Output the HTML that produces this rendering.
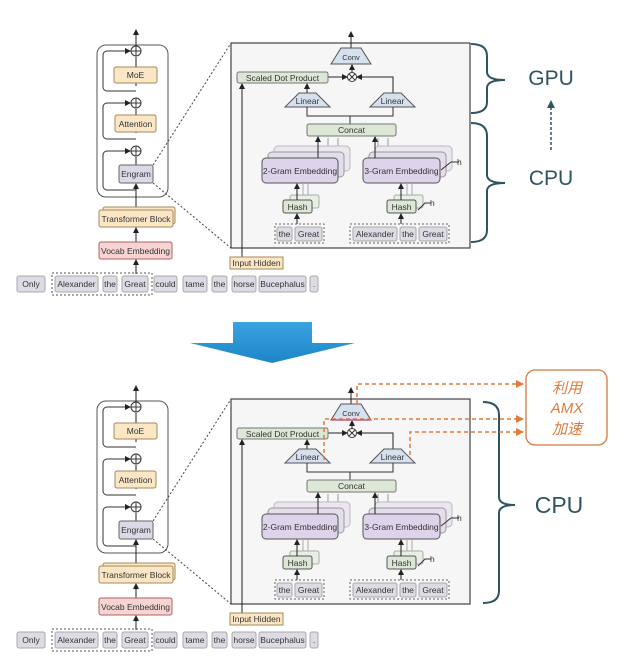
<!DOCTYPE html>
<html><head><meta charset="utf-8"><style>
html,body{margin:0;padding:0;background:#fff;}
svg{display:block;}
text{font-family:"Liberation Sans",sans-serif;font-size:8.5px;fill:#333;}
</style></head><body>
<svg width="630" height="667" viewBox="0 0 630 667" xmlns="http://www.w3.org/2000/svg">
<defs>
<marker id="a" markerWidth="6" markerHeight="6" refX="5" refY="3" orient="auto" markerUnits="userSpaceOnUse"><path d="M0,0 L6,3 L0,6 z" fill="#222"/></marker>
<marker id="o" markerWidth="8" markerHeight="8" refX="7" refY="4" orient="auto" markerUnits="userSpaceOnUse"><path d="M0,0 L8,4 L0,8 z" fill="#e07b39"/></marker>
<marker id="b" markerWidth="8" markerHeight="8" refX="7" refY="4" orient="auto" markerUnits="userSpaceOnUse"><path d="M0,0 L8,4 L0,8 z" fill="#2f5361"/></marker>
<linearGradient id="bl" x1="0" y1="0" x2="0" y2="1"><stop offset="0" stop-color="#3aa3e0"/><stop offset="1" stop-color="#1d86c8"/></linearGradient>
<g id="d">
 <!-- left column -->
 <rect x="97" y="45" width="71" height="152" rx="9" fill="none" stroke="#555" stroke-width="1"/>
 <line x1="136" y1="51" x2="136" y2="30" stroke="#222" marker-end="url(#a)"/>
 <circle cx="136" cy="51" r="5" fill="#fff" stroke="#333"/><path d="M131,51h10M136,46v10" stroke="#333"/>
 <circle cx="136" cy="103" r="5" fill="#fff" stroke="#333"/><path d="M131,103h10M136,98v10" stroke="#333"/>
 <circle cx="136" cy="151" r="5" fill="#fff" stroke="#333"/><path d="M131,151h10M136,146v10" stroke="#333"/>
 <path d="M136,86 V57 M136,133 V109 M136,165 V157 M136,210 V184" stroke="#222" fill="none" marker-end="url(#a)"/>
 <path d="M136,91 H107 a4,4 0 0 1 -4,-4 V55 a4,4 0 0 1 4,-4 H130" stroke="#333" fill="none" marker-end="url(#a)"/>
 <path d="M136,139 H107 a4,4 0 0 1 -4,-4 V107 a4,4 0 0 1 4,-4 H130" stroke="#333" fill="none" marker-end="url(#a)"/>
 <path d="M136,190 H107 a4,4 0 0 1 -4,-4 V155 a4,4 0 0 1 4,-4 H130" stroke="#333" fill="none" marker-end="url(#a)"/>
 <rect x="114" y="67" width="43" height="16" rx="2" fill="#fbe6c6" stroke="#a58a5a"/><text x="135.5" y="78" text-anchor="middle">MoE</text>
 <rect x="115" y="115" width="41" height="17" rx="2" fill="#fbe6c6" stroke="#a58a5a"/><text x="135.5" y="127" text-anchor="middle">Attention</text>
 <rect x="119" y="165" width="34" height="18" rx="2" fill="#dcd8e6" stroke="#666"/><text x="136" y="177" text-anchor="middle">Engram</text>
 <rect x="103" y="207" width="72" height="17" rx="2" fill="#fbe6c6" stroke="#a58a5a"/>
 <rect x="99" y="210" width="74" height="17" rx="2" fill="#fbe6c6" stroke="#a58a5a"/><text x="136" y="222" text-anchor="middle">Transformer Block</text>
 <line x1="136" y1="242" x2="136" y2="228" stroke="#222" marker-end="url(#a)"/>
 <rect x="99" y="242" width="73" height="17" rx="2" fill="#f6d4d4" stroke="#b06060"/><text x="135.5" y="254" text-anchor="middle">Vocab Embedding</text>
 <line x1="136" y1="274" x2="136" y2="260" stroke="#222" marker-end="url(#a)"/>
 <!-- tokens -->
 <g fill="#dedbe5" stroke="#aaa">
  <rect x="17" y="276" width="28" height="16" rx="2"/><rect x="55" y="276" width="43" height="16" rx="2"/><rect x="103" y="276" width="14" height="16" rx="2"/><rect x="122" y="276" width="26" height="16" rx="2"/><rect x="154" y="276" width="23" height="16" rx="2"/><rect x="183" y="276" width="24" height="16" rx="2"/><rect x="212" y="276" width="15" height="16" rx="2"/><rect x="232" y="276" width="24" height="16" rx="2"/><rect x="259" y="276" width="47" height="16" rx="2"/><rect x="310" y="276" width="8" height="16" rx="2"/>
 </g>
 <rect x="52" y="273" width="100" height="22" fill="none" stroke="#555" stroke-dasharray="2,2"/>
 <g text-anchor="middle"><text x="31" y="287">Only</text><text x="76.5" y="287">Alexander</text><text x="110" y="287">the</text><text x="135" y="287">Great</text><text x="165.5" y="287">could</text><text x="195" y="287">tame</text><text x="219.5" y="287">the</text><text x="244" y="287">horse</text><text x="282.5" y="287">Bucephalus</text><text x="314" y="287">.</text></g>
 <!-- zoom lines -->
 <line x1="153" y1="165" x2="231" y2="43" stroke="#444" stroke-dasharray="2,2"/>
 <line x1="153" y1="183" x2="231" y2="248" stroke="#444" stroke-dasharray="2,2"/>
 <!-- right panel -->
 <rect x="231" y="43" width="239" height="205" fill="#f6f6f6" stroke="#444" stroke-width="1.2"/>
 <line x1="351" y1="48" x2="351" y2="32" stroke="#222" marker-end="url(#a)"/>
 <path d="M341,48 H361 L371,64 H331 Z" fill="#d6e0ef" stroke="#555"/><text x="351" y="60" text-anchor="middle" style="font-size:7.5px">Conv</text>
 <line x1="352" y1="72" x2="352" y2="65" stroke="#222" marker-end="url(#a)"/>
 <circle cx="352" cy="77" r="4.5" fill="#fff" stroke="#333"/><path d="M349,74l6,6M355,74l-6,6" stroke="#333"/>
 <line x1="328" y1="77" x2="347" y2="77" stroke="#222" marker-end="url(#a)"/>
 <path d="M393,93 V77 H357" stroke="#222" fill="none" marker-end="url(#a)"/>
 <rect x="237" y="72" width="91" height="11" rx="2" fill="#dce7d6" stroke="#777"/><text x="282.5" y="81" text-anchor="middle">Scaled Dot Product</text>
 <path d="M242,257 V84" stroke="#222" marker-end="url(#a)"/>
 <line x1="307" y1="93" x2="307" y2="84" stroke="#222" marker-end="url(#a)"/>
 <path d="M299,93 H316 L330,107 H285 Z" fill="#d6e0ef" stroke="#555"/><text x="307.5" y="104" text-anchor="middle">Linear</text>
 <path d="M384,93 H401 L415,107 H370 Z" fill="#d6e0ef" stroke="#555"/><text x="392.5" y="104" text-anchor="middle">Linear</text>
 <path d="M307,107 V116 H393 V107 M350,116 V124" stroke="#333" fill="none"/>
 <rect x="307" y="124" width="89" height="12" rx="2" fill="#dce7d6" stroke="#777"/><text x="351.5" y="133" text-anchor="middle">Concat</text>
 <g stroke="#999" fill="none"><path d="M328,152 V138 M338,152 V138 M378,152 V138 M388,152 V138"/></g>
 <!-- 2-gram -->
 <rect x="274" y="146" width="76" height="25" rx="4" fill="#ebe6f0" stroke="#bbb"/>
 <rect x="268" y="152" width="76" height="25" rx="4" fill="#e4ddec" stroke="#999"/>
 <rect x="262" y="158" width="76" height="25" rx="4" fill="#ddd3ea" stroke="#555"/><text x="300" y="174" text-anchor="middle">2-Gram Embedding</text>
 <line x1="318" y1="158" x2="318" y2="137" stroke="#222" marker-end="url(#a)"/>
 <rect x="375" y="146" width="77" height="25" rx="4" fill="#ebe6f0" stroke="#bbb"/>
 <rect x="369" y="152" width="77" height="25" rx="4" fill="#e4ddec" stroke="#999"/>
 <rect x="363" y="158" width="77" height="25" rx="4" fill="#ddd3ea" stroke="#555"/><text x="401.5" y="174" text-anchor="middle">3-Gram Embedding</text>
 <line x1="375" y1="158" x2="375" y2="137" stroke="#222" marker-end="url(#a)"/>
 <path d="M441,170 L451,162 H459" stroke="#333" fill="none"/><text x="457" y="165">h</text>
 <!-- hash -->
 <g stroke="#aaa" fill="none"><path d="M303,198 V184 M308,198 V184 M407,198 V184 M412,198 V184"/></g>
 <rect x="290" y="195" width="29" height="13" rx="2" fill="#e8efe4" stroke="#aaa"/>
 <rect x="283" y="200" width="29" height="13" rx="2" fill="#dce7d6" stroke="#555"/><text x="297.5" y="210" text-anchor="middle">Hash</text>
 <line x1="297" y1="200" x2="297" y2="184" stroke="#222" marker-end="url(#a)"/>
 <rect x="394" y="195" width="29" height="13" rx="2" fill="#e8efe4" stroke="#aaa"/>
 <rect x="387" y="200" width="29" height="13" rx="2" fill="#dce7d6" stroke="#555"/><text x="401.5" y="210" text-anchor="middle">Hash</text>
 <line x1="401" y1="200" x2="401" y2="184" stroke="#222" marker-end="url(#a)"/>
 <path d="M418,210 L425,203 H431" stroke="#333" fill="none"/><text x="430" y="206">h</text>
 <line x1="297" y1="224" x2="297" y2="214" stroke="#222" marker-end="url(#a)"/>
 <line x1="401" y1="224" x2="401" y2="214" stroke="#222" marker-end="url(#a)"/>
 <rect x="275" y="224" width="49" height="19" fill="none" stroke="#666" stroke-dasharray="2,2"/>
 <rect x="350" y="224" width="99" height="19" fill="none" stroke="#666" stroke-dasharray="2,2"/>
 <g fill="#dedbe5" stroke="#aaa"><rect x="277" y="227" width="15" height="14" rx="2"/><rect x="295" y="227" width="27" height="14" rx="2"/><rect x="353" y="227" width="44" height="14" rx="2"/><rect x="400" y="227" width="16" height="14" rx="2"/><rect x="419" y="227" width="28" height="14" rx="2"/></g>
 <g text-anchor="middle"><text x="284.5" y="237">the</text><text x="308.5" y="237">Great</text><text x="375" y="237">Alexander</text><text x="408" y="237">the</text><text x="433" y="237">Great</text></g>
 <rect x="230" y="257" width="53" height="12" fill="#fbe6c6" stroke="#a58a5a"/><text x="256.5" y="266" text-anchor="middle">Input Hidden</text>
</g>
</defs>
<use href="#d"/>
<use href="#d" y="356"/>
<!-- top right braces -->
<g stroke="#2f5361" stroke-width="2" fill="none">
 <path d="M471,44 Q487,44 487,56 V72 Q487,80 505,80 Q487,80 487,88 V102 Q487,113 471,113"/>
 <path d="M471,123 Q487,123 487,136 V175 Q487,183 505,183 Q487,183 487,191 V230 Q487,242 471,242"/>
 <path d="M483,402 Q499,402 499,415 V497 Q499,505 515,505 Q499,505 499,513 V591 Q499,603 483,603"/>
</g>
<text x="551" y="85" text-anchor="middle" style="font-size:21px;fill:#2f5361">GPU</text>
<text x="551" y="185" text-anchor="middle" style="font-size:21px;fill:#2f5361">CPU</text>
<text x="559" y="513" text-anchor="middle" style="font-size:23px;fill:#2f5361">CPU</text>
<line x1="551" y1="150" x2="551" y2="101" stroke="#2f5361" stroke-width="1.5" stroke-dasharray="3,2" marker-end="url(#b)"/>
<!-- big arrow -->
<path d="M233,322 H312 V343 H355 L272,363 L190,343 H233 Z" fill="url(#bl)"/>
<!-- orange -->
<rect x="526" y="370" width="81" height="75" rx="9" fill="#fff" stroke="#d27a45" stroke-width="1.3"/>
<text x="567" y="393" text-anchor="middle" style="font-size:15px;fill:#e07b39;font-style:italic;font-family:'Liberation Sans','Noto Sans CJK SC',sans-serif">利用</text>
<text x="567" y="413" text-anchor="middle" style="font-size:15px;fill:#e07b39;font-style:italic">AMX</text>
<text x="567" y="434" text-anchor="middle" style="font-size:15px;fill:#e07b39;font-style:italic;font-family:'Liberation Sans','Noto Sans CJK SC',sans-serif">加速</text>
<g stroke="#e07b39" stroke-width="1.5" stroke-dasharray="4,3" fill="none">
 <path d="M357,404 V384 H523" marker-end="url(#o)"/>
 <path d="M324,460 V419 H523" marker-end="url(#o)"/>
 <path d="M410,455 V432 H523" marker-end="url(#o)"/>
</g>
<line x1="332" y1="420" x2="370" y2="420" stroke="#c06080" stroke-width="1.5"/>
</svg>
</body></html>
